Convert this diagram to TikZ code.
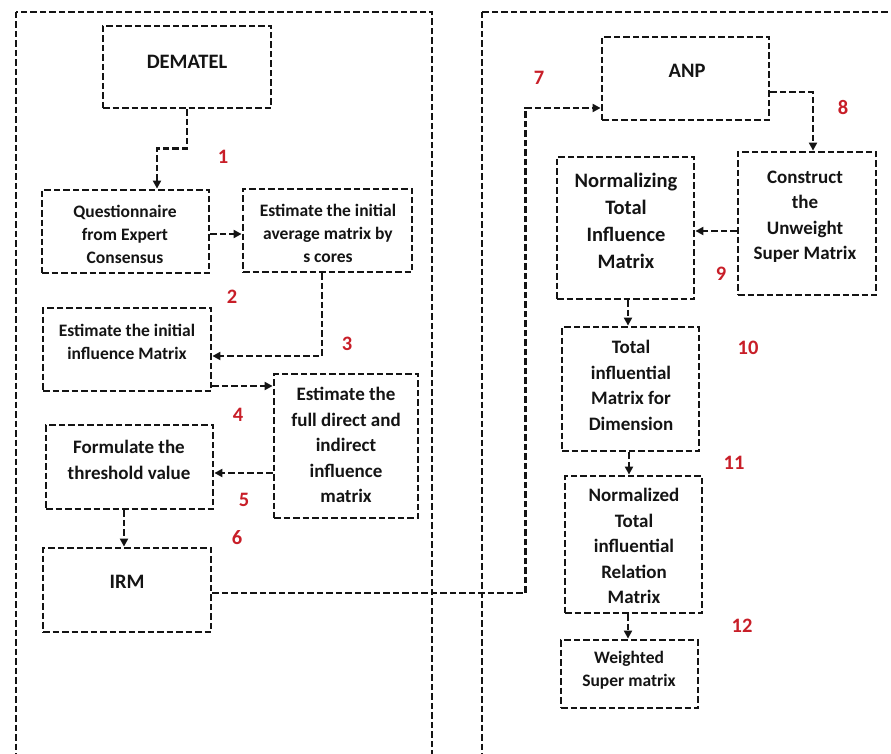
\documentclass[tikz,border=0pt]{standalone}
\usepackage{fontspec}
\setmainfont{Carlito}
\usetikzlibrary{arrows.meta,calc}
\definecolor{stepred}{RGB}{200,30,40}
\definecolor{ink}{RGB}{20,20,20}
\tikzset{
  dsh/.style={line width=2.8pt, dash pattern=on 6.5pt off 3pt},
  box/.style={dsh, draw=ink, inner sep=0pt},
  frame/.style={dsh, draw=ink},
  conn/.style={dsh, draw=ink, -{Triangle[length=8pt,width=8pt]}},
  txt/.style={align=center, inner sep=0pt, text=ink},
  sA/.style={font=\bfseries\fontsize{17.5}{23}\selectfont},
  sB/.style={font=\bfseries\fontsize{19}{25.5}\selectfont},
  sC/.style={font=\bfseries\fontsize{20.5}{27}\selectfont},
  num/.style={text=stepred, font=\bfseries\fontsize{20.5}{24}\selectfont, inner sep=0pt},
}
\begin{document}
\begin{tikzpicture}[x=1pt,y=-1pt]
\path[use as bounding box] (0,0) rectangle (891,754);
\clip (0,0) rectangle (891,754);

% two phase frames (open at the bottom / right)
\draw[frame] (16,12) rectangle (432,770);
\draw[frame] (482,12) rectangle (910,770);

% ---------------- DEMATEL side ----------------
\node[box, minimum width=168pt, minimum height=82pt] (dem) at (187,67) {};
\node[txt, sC] (demt) at (187,62) {DEMATEL};

\node[box, minimum width=167pt, minimum height=83pt] (que) at (125.5,231.5) {};
\node[txt, sA] (quet) at (125,234) {Questionnaire\\from Expert\\Consensus};

\node[box, minimum width=169pt, minimum height=83pt] (avg) at (327.5,230.5) {};
\node[txt, sA] (avgt) at (328,233) {Estimate the initial\\average matrix by\\s cores};

\node[box, minimum width=168pt, minimum height=83pt] (ini) at (127,349.5) {};
\node[txt, sA] (init) at (127,342) {Estimate the initial\\influence Matrix};

\node[box, minimum width=144pt, minimum height=144pt] (full) at (346,446) {};
\node[txt, sB] (fullt) at (346,445) {Estimate the\\full direct and\\indirect\\influence\\matrix};

\node[box, minimum width=167pt, minimum height=84pt] (form) at (129.5,467) {};
\node[txt, sB] (formt) at (129,460) {Formulate the\\threshold value};

\node[box, minimum width=168pt, minimum height=84pt] (irm) at (127,590) {};
\node[txt, sC] (irmt) at (127,582) {IRM};

% ---------------- ANP side ----------------
\node[box, minimum width=167pt, minimum height=83pt] (anp) at (685.5,78.5) {};
\node[txt, sC] (anpt) at (687,71) {ANP};

\node[box, minimum width=138pt, minimum height=143pt] (con) at (807,223.5) {};
\node[txt, sB] (cont) at (805,217) {Construct\\the\\Unweight\\Super Matrix};

\node[box, minimum width=137pt, minimum height=142pt] (nrm) at (625.5,228) {};
\node[txt, sC] (nrmt) at (626,221) {Normalizing\\Total\\Influence\\Matrix};

\node[box, minimum width=137pt, minimum height=124pt] (tot) at (630.5,389) {};
\node[txt, sB] (tott) at (631,385.5) {Total\\influential\\Matrix for\\Dimension};

\node[box, minimum width=137pt, minimum height=137pt] (nzd) at (633.5,544.5) {};
\node[txt, sB] (nzdt) at (634,546) {Normalized\\Total\\influential\\Relation\\Matrix};

\node[box, minimum width=137pt, minimum height=68pt] (wgt) at (629.5,674) {};
\node[txt, sA] (wgtt) at (629,670.5) {Weighted\\Super matrix};

% ---------------- connectors ----------------
\draw[conn] (dem.south) -- ++(0,39) -| ([xshift=31.5pt]que.north);
\draw[conn] ([yshift=-2.5pt]que.east) -- ([yshift=-2.5pt]que.east -| avg.west);
\draw[conn] ([xshift=-5.5pt]avg.south) |- ([yshift=-6.5pt]ini.east);
\draw[conn] ([yshift=-36.5pt]ini.east) -- ([yshift=-36.5pt]ini.east -| full.west);
\draw[conn] ([yshift=-27pt]full.west) -- ([yshift=-27pt]full.west -| form.east);
\draw[conn] ([xshift=-5.5pt]form.south) -- ([xshift=-5.5pt]form.south |- irm.north);

\coordinate (a7) at ([yshift=-29.5pt]anp.west);
\draw[conn] ([yshift=-3pt]irm.east) -| ([xshift=-75pt]a7) -- (a7);
\draw[conn] ([yshift=-13.5pt]anp.east) -| ([xshift=6pt]con.north);
\draw[conn] ([yshift=-7.5pt]con.west) -- ([yshift=-7.5pt]con.west -| nrm.east);
\draw[conn] ([xshift=2.5pt]nrm.south) -- ([xshift=2.5pt]nrm.south |- tot.north);
\draw[conn] ([xshift=-1.5pt]tot.south) -- ([xshift=-1.5pt]tot.south |- nzd.north);
\draw[conn] ([xshift=-5.5pt]nzd.south) -- ([xshift=-5.5pt]nzd.south |- wgt.north);

% ---------------- step numbers ----------------
\node[num] (n1) at (223,157) {1};
\node[num] (n2) at (232,297) {2};
\node[num] (n3) at (347,344) {3};
\node[num] (n4) at (238,415) {4};
\node[num] (n5) at (244,500) {5};
\node[num] (n6) at (237,538) {6};
\node[num] (n7) at (539,78) {7};
\node[num] (n8) at (843,107) {8};
\node[num] (n9) at (721,274) {9};
\node[num] (n10) at (748,348) {10};
\node[num] (n11) at (734,463) {11};
\node[num] (n12) at (742,626) {12};
\end{tikzpicture}
\end{document}
